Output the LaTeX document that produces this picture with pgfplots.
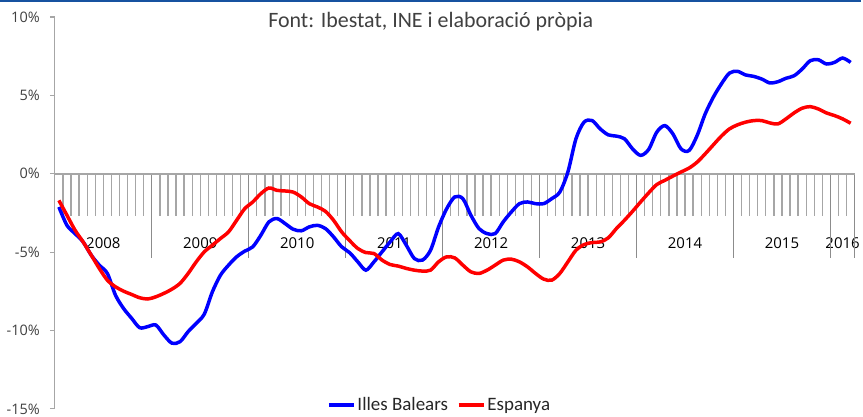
\documentclass[border=0pt]{standalone}
\usepackage{fontspec}
\setmainfont{Open Sans}
\newfontfamily\carlito{Carlito}
\usepackage{pgfplots}
\usepackage{pgfplotstable}
\pgfplotsset{compat=1.18}
\definecolor{ibblue}{RGB}{0,0,255}
\definecolor{esred}{RGB}{255,0,0}
\definecolor{axisgray}{RGB}{166,166,166}
\definecolor{divgray}{RGB}{140,140,140}
\definecolor{topblue}{RGB}{23,82,160}
\definecolor{txtgray}{RGB}{64,64,64}

% month index (0 = Jan 2008), Illes Balears, Espanya (%)
\pgfplotstableread{
m ib es
0 -2.12 -1.70
1 -3.29 -2.65
2 -3.82 -3.60
3 -4.35 -4.35
4 -5.19 -5.19
5 -5.83 -6.04
6 -6.36 -6.79
7 -7.74 -7.21
8 -8.59 -7.49
9 -9.22 -7.70
10 -9.82 -7.91
11 -9.75 -7.99
12 -9.65 -7.85
13 -10.29 -7.63
14 -10.81 -7.36
15 -10.71 -6.99
16 -10.07 -6.36
17 -9.54 -5.62
18 -8.95 -4.98
19 -7.53 -4.56
20 -6.47 -4.13
21 -5.83 -3.71
22 -5.30 -2.97
23 -4.94 -2.23
24 -4.66 -1.80
25 -3.92 -1.27
26 -3.07 -0.91
27 -2.86 -1.06
28 -3.18 -1.10
29 -3.54 -1.17
30 -3.64 -1.48
31 -3.39 -1.91
32 -3.29 -2.12
33 -3.50 -2.40
34 -4.03 -2.97
35 -4.66 -3.71
36 -5.04 -4.27
37 -5.62 -4.77
38 -6.15 -5.03
39 -5.62 -5.09
40 -4.98 -5.51
41 -4.35 -5.79
42 -3.82 -5.89
43 -4.56 -6.04
44 -5.41 -6.15
45 -5.51 -6.21
46 -4.88 -6.15
47 -3.39 -5.62
48 -2.23 -5.30
49 -1.48 -5.37
50 -1.59 -5.83
51 -2.65 -6.26
52 -3.50 -6.36
53 -3.82 -6.15
54 -3.82 -5.83
55 -3.07 -5.51
56 -2.44 -5.45
57 -1.91 -5.62
58 -1.80 -5.94
59 -1.91 -6.36
60 -1.91 -6.72
61 -1.59 -6.79
62 -1.17 -6.36
63 0.11 -5.62
64 2.23 -4.88
65 3.29 -4.52
66 3.39 -4.39
67 2.86 -4.35
68 2.48 -4.09
69 2.40 -3.50
70 2.23 -2.97
71 1.59 -2.40
72 1.17 -1.80
73 1.55 -1.22
74 2.65 -0.69
75 3.07 -0.42
76 2.54 -0.15
77 1.59 0.11
78 1.48 0.36
79 2.44 0.74
80 3.82 1.27
81 4.88 1.84
82 5.73 2.40
83 6.42 2.86
84 6.53 3.12
85 6.30 3.29
86 6.21 3.39
87 6.04 3.39
88 5.79 3.24
89 5.87 3.18
90 6.09 3.50
91 6.25 3.88
92 6.68 4.18
93 7.21 4.28
94 7.27 4.13
95 7.00 3.88
96 7.10 3.71
97 7.38 3.50
98 7.10 3.22
}\datatable

\begin{document}
\begin{tikzpicture}
\begin{axis}[
  at={(0pt,0pt)}, anchor=south west,
  scale only axis, width=802pt, height=393pt,
  xmin=0, xmax=99, ymin=-15, ymax=10,
  axis x line*=bottom, axis y line*=left,
  x axis line style={draw=none},
  y axis line style={axisgray, line width=1.2pt},
  xtick={6,18,30,42,54,66,78,90,97.5},
  xticklabels={2008,2009,2010,2011,2012,2013,2014,2015,2016},
  x tick style={draw=none},
  xticklabel style={anchor=center, yshift=171pt, font=\fontsize{15}{15}\selectfont, text=black},
  ytick={-15,-10,-5,0,5,10},
  yticklabels={-15\%,-10\%,-5\%,0\%,5\%,10\%},
  y tick style={axisgray, line width=1.2pt},
  tick align=outside, major tick length=5pt,
  yticklabel style={font=\fontsize{14.5}{14.5}\selectfont, text=txtgray, inner sep=0pt, xshift=-10pt},
  title={Font: Ibestat, INE i elaboració pròpia},
  title style={at={(0.47,0.972)}, anchor=center, font=\carlito\fontsize{22}{22}\selectfont, text=txtgray},
  legend columns=2,
  legend style={at={(0.481,0.010)}, anchor=center, draw=none, fill=none,
    font=\carlito\fontsize{19}{19}\selectfont, text=black!85,
    /tikz/every even column/.append style={column sep=7pt}},
  legend image code/.code={\draw[#1, line width=3.5pt] (0pt,0pt) -- (25pt,0pt);},
  clip=false,
]
% monthly ticks and year dividers below the zero line
\pgfplotsinvokeforeach{1,...,98}{
  \draw[axisgray, line width=1.3pt] (axis cs:#1,0) -- ([yshift=-42pt]axis cs:#1,0);
}
\pgfplotsinvokeforeach{12,24,...,96,99}{
  \draw[divgray, line width=1pt] (axis cs:#1,0) -- ([yshift=-84pt]axis cs:#1,0);
}
\draw[axisgray, line width=2pt] (axis cs:0,0) -- (axis cs:99,0);

\addplot[ibblue, line width=3.5pt, smooth] table[x expr=\thisrow{m}+0.5, y=ib] {\datatable};
\addlegendentry{Illes Balears}
\addplot[esred, line width=3.5pt, smooth] table[x expr=\thisrow{m}+0.5, y=es] {\datatable};
\addlegendentry{Espanya}
\end{axis}
\fill[topblue] (-55pt,408pt) rectangle (808pt,410pt);
\useasboundingbox (-55pt,-3pt) rectangle (808pt,410pt);
\end{tikzpicture}
\end{document}
